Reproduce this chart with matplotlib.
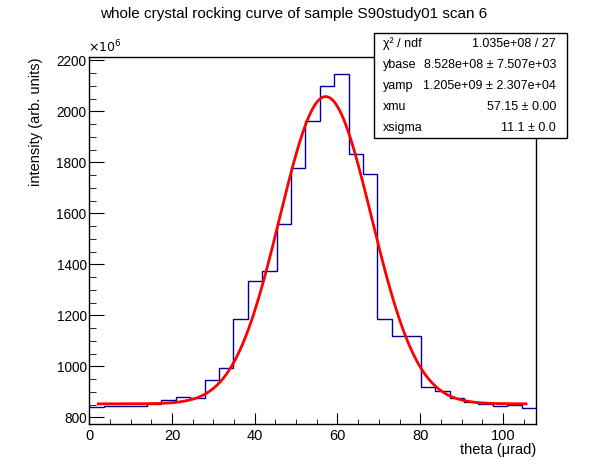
import matplotlib
matplotlib.use("Agg")
import matplotlib.pyplot as plt
from matplotlib.ticker import MultipleLocator
import numpy as np

plt.rcParams['font.family'] = ['Liberation Sans', 'DejaVu Sans']

# histogram contents (units of 1e6), 31 bins over 0..108 urad
counts = [839, 844, 844, 844, 852, 867, 878, 875, 945, 992,
          1185, 1335, 1374, 1558, 1776, 1962, 2099, 2145, 1831, 1753,
          1185, 1120, 1120, 920, 903, 875, 859, 851, 844, 847, 835]
x_min, x_max = 0.0, 108.0

# fit parameters from the stats box
ybase = 852.8
yamp = 1205.0
xmu = 57.15
xsigma = 11.1
fit_lo, fit_hi = 2.2, 105.6

stat_rows = [("χ² / ndf", "1.035e+08 / 27"),
             ("ybase", "8.528e+08 ± 7.507e+03"),
             ("yamp", "1.205e+09 ± 2.307e+04"),
             ("xmu", "57.15 ± 0.00"),
             ("xsigma", "11.1 ± 0.0")]

edges = np.linspace(x_min, x_max, len(counts) + 1)

fig = plt.figure(figsize=(5.96, 4.72), dpi=100)
ax = fig.add_axes([89.3 / 596, 48 / 472, (536 - 89.3) / 596, (424 - 57) / 472])

ax.stairs(counts, edges, baseline=None, color='#000099', lw=1)

xf = np.linspace(fit_lo, fit_hi, 300)
yf = ybase + yamp * np.exp(-0.5 * ((xf - xmu) / xsigma) ** 2)
ax.plot(xf, yf, color='red', lw=2)

ax.set_xlim(x_min, x_max)
ax.set_ylim(773.7, 2213)
ax.xaxis.set_major_locator(MultipleLocator(20))
ax.xaxis.set_minor_locator(MultipleLocator(5))
ax.yaxis.set_major_locator(MultipleLocator(200))
ax.yaxis.set_minor_locator(MultipleLocator(50))
ax.tick_params(which='both', direction='in', top=False, right=False)
ax.tick_params(axis='x', which='major', length=7.7, pad=3.5, labelsize=10.5)
ax.tick_params(axis='x', which='minor', length=3.8)
ax.tick_params(axis='y', which='major', length=10.6, pad=2, labelsize=9.8)
ax.tick_params(axis='y', which='minor', length=5.3)
for s in ax.spines.values():
    s.set_linewidth(1)

fig.text(88 / 596, 1 - 47 / 472, "$\\times10^6$", fontsize=9, ha='left', va='center')
fig.text(294 / 596, 1 - 14 / 472, "whole crystal rocking curve of sample S90study01 scan 6",
         fontsize=11, ha='center', va='center')
fig.text(536 / 596, 1 - 450 / 472, "theta (μrad)", fontsize=10.5, ha='right', va='center')
fig.text(36 / 596, 1 - 57 / 472, "intensity (arb. units)", fontsize=10.5, rotation=90,
         ha='center', va='top')

# stats box
bx0, bx1, by0, by1 = 374 / 596, 566.7 / 596, 1 - 138.3 / 472, 1 - 33.3 / 472
fig.patches.append(plt.Rectangle((bx0, by0), bx1 - bx0, by1 - by0, transform=fig.transFigure,
                                 facecolor='white', edgecolor='black', lw=1, zorder=5))
row_h = (by1 - by0) / len(stat_rows)
for i, (name, val) in enumerate(stat_rows):
    yc = by1 - (i + 0.5) * row_h
    fig.text(382.7 / 596, yc, name, fontsize=9, ha='left', va='center', zorder=6)
    fig.text(556 / 596, yc, val, fontsize=9, ha='right', va='center', zorder=6)

fig.savefig("out.png", dpi=100)
